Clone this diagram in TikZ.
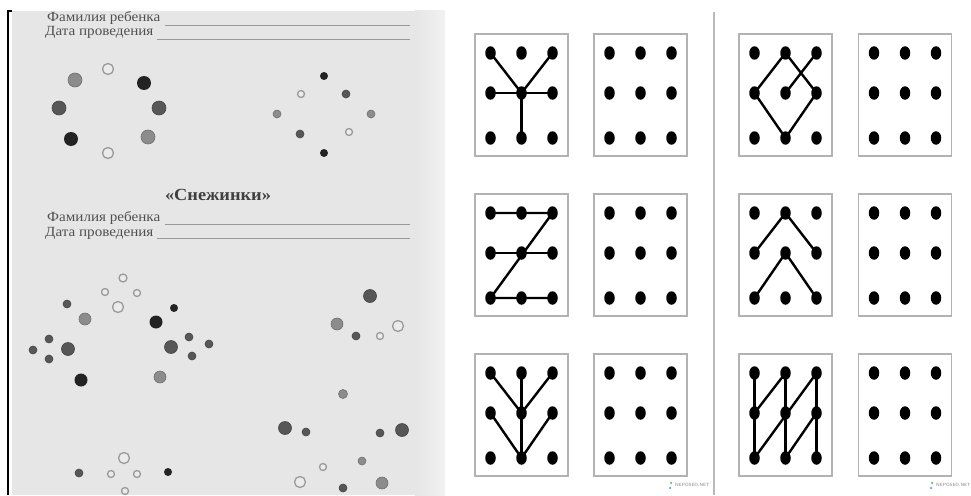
\documentclass[tikz,border=0pt]{standalone}
\usepackage{fontspec}
\setmainfont{Liberation Serif}
\newfontfamily\formfont[FakeStretch=1.08]{Liberation Serif}
\usetikzlibrary{shapes.geometric}
\definecolor{panelbg}{HTML}{E6E6E6}
\definecolor{txtgray}{HTML}{505050}
\definecolor{dotgray}{HTML}{8C8C8C}
\definecolor{dotdark}{HTML}{575757}
\definecolor{dotblack}{HTML}{232323}
\definecolor{openrim}{HTML}{9A9A9A}
\tikzset{
  sd/.style={circle, inner sep=0pt, minimum size=#1},
  od/.style={sd=#1, draw=openrim, line width=1.3pt, fill=white!92!black},
  gd/.style={sd=#1, fill=dotgray, draw=dotgray!80!black, line width=0.6pt},
  dd/.style={sd=#1, fill=dotdark, draw=dotdark!80!black, line width=0.6pt},
  bd/.style={sd=#1, fill=dotblack},
  formtxt/.style={font=\formfont\fontsize{14}{14}\selectfont, text=txtgray, inner sep=0pt, anchor=base west},
  rule/.style={draw=gray!80, line width=0.9pt},
  gdot/.style={ellipse, fill=black, inner sep=0pt, minimum width=10.5pt, minimum height=13.5pt},
  boxst/.style={draw=gray!60, line width=1.2pt, fill=white},
  link/.style={line width=2.4pt, line cap=round},
  wmark/.style={font=\fontsize{4.6}{5}\selectfont\sffamily\bfseries, text=gray!70, inner sep=0pt, anchor=west}
}
\newcommand\dgrid[3]{%
  \draw[boxst] (#2-46.5,#3) rectangle (#2+46.5,#3+122);
  \foreach \c/\dx in {1/-31,2/0,3/31}{
    \foreach \r/\dy in {1/19,2/59,3/104}{
      \node[gdot] (#1\c\r) at (#2+\dx,#3+\dy) {};
    }
  }%
}
\begin{document}
\begin{tikzpicture}[x=1pt,y=-1pt]
\useasboundingbox (0,0) rectangle (971,495);
\fill[white] (0,0) rectangle (971,495);
% left panel
\fill[panelbg] (12,11) rectangle (415,495);
\shade[left color=panelbg, right color=gray!11] (415,11) rectangle (445,495);
\draw[black, line width=1.2pt] (12,11) -- (8,11) -- (8,495);
% form headers
\node[formtxt] (fam1) at (47,22) {Фамилия ребенка};
\node[formtxt] (dat1) at (45,36) {Дата проведения};
\coordinate (l1a) at (165,25); \coordinate (l1b) at (410,25);
\coordinate (l2a) at (157,39); \coordinate (l2b) at (410,39);
\draw[rule] (l1a) -- (l1b); \draw[rule] (l2a) -- (l2b);
\node[font=\formfont\fontsize{17}{17}\selectfont\bfseries, text=txtgray!80!black, inner sep=0pt, anchor=base] (title) at (218,200) {«Снежинки»};
\node[formtxt] (fam2) at (47,221) {Фамилия ребенка};
\node[formtxt] (dat2) at (45,236) {Дата проведения};
\coordinate (l3a) at (165,224); \coordinate (l3b) at (410,224);
\coordinate (l4a) at (157,238); \coordinate (l4b) at (410,238);
\draw[rule] (l3a) -- (l3b); \draw[rule] (l4a) -- (l4b);
% top-left snowflake
\node[od=11] (t1) at (108,69) {};
\node[gd=14] (t2) at (75,80) {};
\node[bd=14] (t3) at (144,83) {};
\node[dd=14] (t4) at (59,108) {};
\node[dd=14] (t5) at (159,108) {};
\node[bd=14] (t6) at (71,139) {};
\node[gd=14] (t7) at (148,137) {};
\node[od=11] (t8) at (108,153) {};
% top-right snowflake
\node[bd=8] (s1) at (324,76) {};
\node[od=7] (s2) at (301,94) {};
\node[dd=8] (s3) at (346,94) {};
\node[gd=8] (s4) at (277,114) {};
\node[gd=8] (s5) at (371,114) {};
\node[dd=8] (s6) at (300,134) {};
\node[od=7] (s7) at (349,132) {};
\node[bd=8] (s8) at (324,153) {};
% bottom dots
\node[od=8] (b1) at (123,278) {};
\node[od=7] (b2) at (105,292) {};
\node[od=7] (b3) at (137,293) {};
\node[dd=8] (b4) at (67,304) {};
\node[od=11] (b5) at (118,307) {};
\node[bd=8] (b6) at (174,308) {};
\node[gd=12] (b7) at (85,319) {};
\node[bd=13] (b8) at (156,322) {};
\node[dd=13] (b9) at (370,296) {};
\node[gd=12] (b10) at (337,324) {};
\node[od=11] (b11) at (398,326) {};
\node[dd=8] (b12) at (356,336) {};
\node[od=7] (b13) at (380,336) {};
\node[dd=8] (b14) at (49,339) {};
\node[dd=8] (b15) at (189,337) {};
\node[dd=8] (b16) at (209,344) {};
\node[dd=8] (b17) at (33,350) {};
\node[dd=13] (b18) at (68,349) {};
\node[dd=13] (b19) at (171,347) {};
\node[dd=8] (b20) at (49,359) {};
\node[dd=8] (b21) at (192,356) {};
\node[bd=13] (b22) at (81,380) {};
\node[gd=12] (b23) at (160,377) {};
\node[gd=9] (b24) at (343,394) {};
\node[dd=13] (b25) at (285,428) {};
\node[dd=8] (b26) at (306,432) {};
\node[dd=8] (b27) at (380,433) {};
\node[dd=13] (b28) at (402,430) {};
\node[od=11] (b29) at (124,458) {};
\node[dd=8] (b30) at (79,473) {};
\node[od=7] (b31) at (111,474) {};
\node[od=7] (b32) at (137,474) {};
\node[bd=8] (b33) at (168,472) {};
\node[od=7] (b34) at (323,467) {};
\node[gd=8] (b35) at (362,461) {};
\node[od=11] (b36) at (300,482) {};
\node[dd=8] (b37) at (343,488) {};
\node[gd=12] (b38) at (382,483) {};
\node[od=7] (b39) at (125,491) {};
% separator
\coordinate (sepT) at (714,12); \coordinate (sepB) at (714,495);
\draw[gray!55, line width=1.5pt] (sepT) -- (sepB);
% grids
\dgrid{A}{521.5}{34}
\dgrid{a}{640.5}{34}
\dgrid{B}{521.5}{194}
\dgrid{b}{640.5}{194}
\dgrid{C}{521.5}{354}
\dgrid{c}{640.5}{354}
\dgrid{D}{785.5}{34}
\dgrid{d}{905}{34}
\dgrid{E}{785.5}{194}
\dgrid{e}{905}{194}
\dgrid{F}{785.5}{354}
\dgrid{f}{905}{354}
% patterns
\draw[link] (A11.center) -- (A22.center);
\draw[link] (A31.center) -- (A22.center);
\draw[link] (A12.center) -- (A32.center);
\draw[link] (A22.center) -- (A23.center);
\draw[link] (B11.center) -- (B31.center) -- (B13.center) -- (B33.center);
\draw[link] (B12.center) -- (B32.center);
\draw[link] (C21.center) -- (C23.center);
\draw[link] (C11.center) -- (C22.center);
\draw[link] (C31.center) -- (C22.center);
\draw[link] (C12.center) -- (C23.center);
\draw[link] (C32.center) -- (C23.center);
\draw[link] (D12.center) -- (D21.center) -- (D32.center) -- (D23.center) -- (D12.center);
\draw[link] (D22.center) -- (D31.center);
\draw[link] (E12.center) -- (E21.center) -- (E32.center);
\draw[link] (E13.center) -- (E22.center) -- (E33.center);
\draw[link] (F11.center) -- (F13.center);
\draw[link] (F21.center) -- (F23.center);
\draw[link] (F31.center) -- (F33.center);
\draw[link] (F12.center) -- (F21.center);
\draw[link] (F13.center) -- (F31.center);
\draw[link] (F23.center) -- (F32.center);
% watermarks
\node[wmark] (w1) at (675,485) {NEPOSED.NET};
\node[circle, fill=green!60!black!60, inner sep=0pt, minimum size=2.5pt] (w1a) at (671,483) {};
\node[circle, fill=cyan!60!blue!60, inner sep=0pt, minimum size=2.5pt] (w1b) at (670,488) {};
\node[wmark] (w2) at (936,485) {NEPOSED.NET};
\node[circle, fill=green!60!black!60, inner sep=0pt, minimum size=2.5pt] (w2a) at (932,483) {};
\node[circle, fill=cyan!60!blue!60, inner sep=0pt, minimum size=2.5pt] (w2b) at (931,488) {};
\end{tikzpicture}
\end{document}
